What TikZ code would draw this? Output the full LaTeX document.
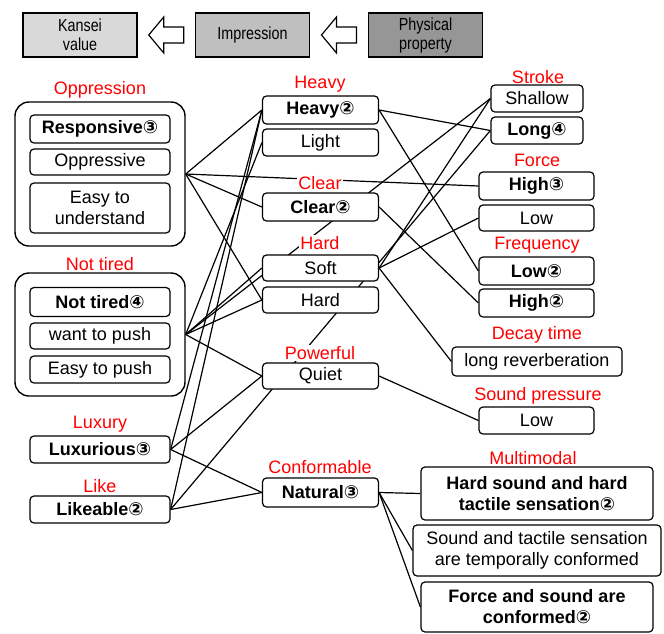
\documentclass[tikz,border=0pt]{standalone}
\usepackage{fontspec}
\setmainfont{Liberation Sans}
\newfontfamily\circfont{DejaVu Sans}
\newfontfamily\headfont[FakeStretch=0.82]{Liberation Sans}
\usetikzlibrary{backgrounds,calc}
\definecolor{kanseigray}{HTML}{D9D9D9}
\definecolor{imprgray}{HTML}{BFBFBF}
\definecolor{physgray}{HTML}{969696}
\newcommand\cnum[1]{{\circfont #1}}

\tikzset{
  box/.style={draw, rounded corners=4pt, fill=white, line width=1.2pt, align=center,
    inner sep=1pt, font=\fontsize{18}{21}\selectfont},
  lbox/.style={box, minimum width=140pt},
  mbox/.style={box, minimum width=116pt},
  rbox/.style={box, minimum width=115pt},
  group/.style={draw, rounded corners=14pt, fill=white, line width=1.4pt, minimum width=170pt},
  tag/.style={text=red, fill=white, inner sep=1.5pt, font=\fontsize{18}{20}\selectfont},
  head/.style={draw, line width=1.4pt, minimum width=114pt, minimum height=44pt, align=center,
    font=\headfont\fontsize{17.5}{19}\selectfont},
  link/.style={line width=1.2pt},
  hollow/.style={draw, line width=1.2pt, fill=white}
}

\begin{document}
\begin{tikzpicture}[x=1pt, y=-1pt]
    \useasboundingbox (0,0) rectangle (664,633);
    % header
    \node[head, fill=kanseigray] (kansei) at (80,35) {Kansei\\value};
    \node[head, fill=imprgray] (impr) at (252.5,35) {Impression};
    \node[head, fill=physgray] (phys) at (425.5,35) {Physical\\property};
    \coordinate (arrA) at ($(kansei.east)!0.5!(impr.west)$);
    \coordinate (arrB) at ($(impr.east)!0.5!(phys.west)$);
    \draw[hollow] ($(arrA)+(-17.5,0)$) -- ++(15,-18) -- ++(0,10) -- ++(20,0) -- ++(0,16)
        -- ++(-20,0) -- ++(0,10) -- cycle;
    \draw[hollow] ($(arrB)+(-17.5,0)$) -- ++(15,-18) -- ++(0,10) -- ++(20,0) -- ++(0,16)
        -- ++(-20,0) -- ++(0,10) -- cycle;

    % Kansei values
    \node[tag] at (100,90) {Oppression};
    \node[group, minimum height=144pt] (gOpp) at (100,174) {};
    \node[lbox, minimum height=28pt] (resp) at (100,129) {\textbf{Responsive\cnum{③}}};
    \node[lbox, minimum height=26pt] (oppr) at (100,162) {Oppressive};
    \node[lbox, minimum height=50pt] (under) at (100,208) {Easy to\\understand};
    \node[tag] at (100,264) {Not tired};
    \node[group, minimum height=123pt] (gTired) at (100,334.5) {};
    \node[lbox, minimum height=29pt] (tired) at (100,302) {\textbf{Not tired\cnum{④}}};
    \node[lbox, minimum height=26pt] (want) at (100,336) {want to push};
    \node[lbox, minimum height=27pt] (easyp) at (100,369.5) {Easy to push};
    \node[tag] at (100,424) {Luxury};
    \node[lbox, minimum height=27pt] (lux) at (100,449.5) {\textbf{Luxurious\cnum{③}}};
    \node[tag] at (100,486) {Like};
    \node[lbox, minimum height=27pt] (like) at (100,509.5) {\textbf{Likeable\cnum{②}}};

    % Impressions
    \node[tag] at (320,84) {Heavy};
    \node[mbox, minimum height=28pt] (heavy) at (320.5,110) {\textbf{Heavy\cnum{②}}};
    \node[mbox, minimum height=27pt] (light) at (320.5,142.5) {Light};
    \node[tag] (clearTag) at (320,183) {Clear};
    \node[mbox, minimum height=28pt] (clear) at (320.5,207) {\textbf{Clear\cnum{②}}};
    \node[tag] at (320,243) {Hard};
    \node[mbox, minimum height=26pt] (soft) at (320.5,268) {Soft};
    \node[mbox, minimum height=26pt] (hard) at (320.5,300) {Hard};
    \node[tag] at (320,353) {Powerful};
    \node[mbox, minimum height=26pt] (quiet) at (320.5,376) {Quiet};
    \node[tag] at (320,467) {Conformable};
    \node[mbox, minimum height=29pt] (natural) at (320.5,492.5) {\textbf{Natural\cnum{③}}};

    % Physical properties
    \node[tag] at (538,77) {Stroke};
    \node[box, minimum width=92pt, minimum height=27pt] (shallow) at (537,98.5) {Shallow};
    \node[box, minimum width=92pt, minimum height=27pt] (long) at (537,130.5) {\textbf{Long\cnum{④}}};
    \node[tag] at (537,160) {Force};
    \node[rbox, minimum height=28pt] (highF) at (536.5,186) {\textbf{High\cnum{③}}};
    \node[rbox, minimum height=26pt] (lowF) at (536.5,218) {Low};
    \node[tag] at (537,245) {Frequency};
    \node[rbox, minimum height=28pt] (lowQ) at (536.5,271) {\textbf{Low\cnum{②}}};
    \node[rbox, minimum height=28pt] (highQ) at (536.5,303) {\textbf{High\cnum{②}}};
    \node[tag] at (537,335) {Decay time};
    \node[box, minimum width=170pt, minimum height=29pt] (reverb) at (537,361.5) {long reverberation};
    \node[tag] at (538,396) {Sound pressure};
    \node[rbox, minimum height=27pt] (lowP) at (536.5,420.5) {Low};
    \node[tag] at (533,458) {Multimodal};
    \node[box, minimum width=232pt, minimum height=53pt] (hardSnd) at (537,493.5)
        {\textbf{Hard sound and hard}\\\textbf{tactile sensation\cnum{②}}};
    \node[box, minimum width=248pt, minimum height=51pt] (sync) at (537,550.5)
        {Sound and tactile sensation\\are temporally conformed};
    \node[box, minimum width=232pt, minimum height=50pt] (forceSnd) at (537,607)
        {\textbf{Force and sound are}\\\textbf{conformed\cnum{②}}};

    % connectors behind the boxes
    \begin{scope}[on background layer]
        \draw[link] (gOpp.east) -- (heavy.west);
        \draw[link] (gOpp.east) -- (highF.west);
        \draw[link] (gOpp.east) -- (clear.west);
        \draw[link] (gOpp.east) -- (hard.west);
        \draw[link] (gTired.east) -- (light.west);
        \draw[link] (gTired.east) -- (soft.west);
        \draw[link] (gTired.east) -- (shallow.west);
        \draw[link] (gTired.east) -- (hard.west);
        \draw[link] (gTired.east) -- (quiet.west);
        \draw[link] (lux.east) -- (heavy.west);
        \draw[link] (lux.east) -- (quiet.west);
        \draw[link] (lux.east) -- (natural.west);
        \draw[link] (like.east) -- (heavy.west);
        \draw[link] (like.east) -- (long.west);
        \draw[link] (like.east) -- (natural.west);
        \draw[link] (heavy.east) -- (long.west);
        \draw[link] (heavy.east) -- (lowQ.west);
        \draw[link] (clear.east) -- (highQ.west);
        \draw[link] (soft.east) -- (shallow.west);
        \draw[link] (soft.east) -- (lowF.west);
        \draw[link] (soft.east) -- (reverb.west);
        \draw[link] (quiet.east) -- (lowP.west);
        \draw[link] (natural.east) -- (hardSnd.west);
        \draw[link] (natural.east) -- (sync.west);
        \draw[link] (natural.east) -- (forceSnd.west);
    \end{scope}
\end{tikzpicture}
\end{document}
